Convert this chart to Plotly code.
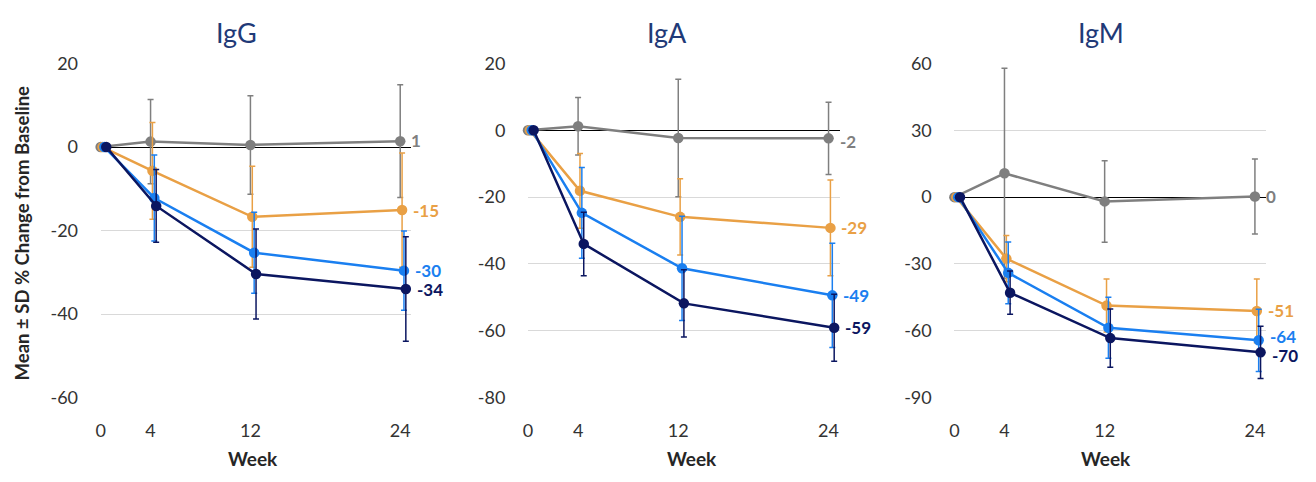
import plotly.graph_objects as go

weeks = [0, 4, 12, 24]
panels = ["IgG", "IgA", "IgM"]
series_names = ["Placebo", "Dose A", "Dose B", "Dose C"]
colors = ["#7F7F7F", "#E9A045", "#1A7FF0", "#0B1660"]
x_offsets = [0.0, 0.15, 0.3, 0.45]

# Mean % change from baseline per panel, per series
igg_mean = [
    [0, 1.3, 0.5, 1.4],
    [0, -5.7, -16.7, -15.1],
    [0, -12.2, -25.3, -29.6],
    [0, -14.1, -30.4, -34.0],
]
igg_sd = [
    [0, 10.1, 11.8, 13.5],
    [0, 11.6, 12.1, 13.7],
    [0, 10.3, 9.7, 9.5],
    [0, 8.7, 10.8, 12.5],
]
iga_mean = [
    [0, 1.2, -2.3, -2.4],
    [0, -18.1, -25.9, -29.2],
    [0, -24.7, -41.3, -49.4],
    [0, -34.0, -51.8, -59.1],
]
iga_sd = [
    [0, 8.6, 17.6, 10.8],
    [0, 11.2, 11.4, 14.3],
    [0, 13.6, 15.6, 15.6],
    [0, 9.5, 10.1, 10.0],
]
igm_mean = [
    [0, 10.7, -1.9, 0.3],
    [0, -27.6, -48.7, -51.1],
    [0, -34.0, -58.7, -64.3],
    [0, -42.9, -63.3, -69.7],
]
igm_sd = [
    [0, 47.2, 18.3, 16.8],
    [0, 10.4, 11.9, 14.3],
    [0, 13.9, 13.7, 14.0],
    [0, 9.7, 13.1, 11.7],
]
y_ranges = [[-60, 20], [-80, 20], [-90, 60]]
y_tickvals = [[-60, -40, -20, 0, 20], [-80, -60, -40, -20, 0, 20], [-90, -60, -30, 0, 30, 60]]
y_ticktext = [["-60", "-40", "-20", "0", "20"], ["-80", "-60", "-40", "-20", "0", "20"],
              ["-90", "-60", "-30", "0", "30", "60"]]
x_tickvals = [0, 4, 12, 24]
x_ticktext = ["0", "4", "12", "24"]

means = [igg_mean, iga_mean, igm_mean]
sds = [igg_sd, iga_sd, igm_sd]

W, H = 1316, 482
x_domains_px = [(96, 408), (525, 838), (953, 1266)]
y_domain_px = (54, 404)
title_x_px = [232, 665, 1100]
week_x_px = [249, 690, 1105]
# small vertical nudges (px) for end labels, per panel/series
label_yshift = [[1, 0, 0, 0], [-3, 0, 0, 0], [0, 0, 4, -3]]

FONT = "Lato, Open Sans, sans-serif"

fig = go.Figure()
layout = dict(
    width=W, height=H,
    margin=dict(l=0, r=0, t=0, b=0),
    plot_bgcolor="white", paper_bgcolor="white",
    showlegend=False,
    font=dict(family=FONT, size=15, color="#404040"),
)

annotations = []
for p in range(3):
    xa = "x" if p == 0 else f"x{p+1}"
    ya = "y" if p == 0 else f"y{p+1}"
    for s in range(4):
        m = means[p][s]
        sd = sds[p][s]
        xs = [w + x_offsets[s] for w in weeks]
        fig.add_trace(go.Scatter(
            x=xs, y=m, mode="lines+markers",
            name=series_names[s],
            line=dict(color=colors[s], width=2.5),
            marker=dict(color=colors[s], size=10.5),
            error_y=dict(type="data", array=sd, visible=True,
                         color=colors[s], thickness=1.5, width=3),
            cliponaxis=False,
            xaxis=xa, yaxis=ya,
        ))
        annotations.append(dict(
            text=f"<b>{round(m[-1]):d}</b>", x=xs[-1], y=m[-1],
            xref=xa, yref=ya, xanchor="left", yanchor="middle",
            xshift=9, yshift=label_yshift[p][s], showarrow=False,
            font=dict(size=17, color=colors[s], family=FONT),
        ))
    x0, x1 = x_domains_px[p]
    layout["xaxis" if p == 0 else f"xaxis{p+1}"] = dict(
        domain=[x0 / W, x1 / W], range=[0, 24.9],
        tickvals=x_tickvals, ticktext=x_ticktext,
        showgrid=False, zeroline=False,
        showline=False, ticks="outside", ticklen=17,
        tickcolor="rgba(0,0,0,0)", anchor=ya,
        tickfont=dict(size=18, color="#333333"),
    )
    layout["yaxis" if p == 0 else f"yaxis{p+1}"] = dict(
        domain=[1 - y_domain_px[1] / H, 1 - y_domain_px[0] / H],
        range=y_ranges[p], tickvals=y_tickvals[p], ticktext=y_ticktext[p],
        showgrid=True, gridcolor="#D9D9D9", gridwidth=1,
        zeroline=True, zerolinecolor="#000000", zerolinewidth=1,
        showline=False, ticks="outside", ticklen=18,
        tickcolor="rgba(0,0,0,0)", anchor=xa,
        tickfont=dict(size=18, color="#333333"),
    )
    annotations.append(dict(
        text=panels[p], x=title_x_px[p] / W, y=1 - 22 / H,
        xref="paper", yref="paper", yanchor="middle", xanchor="center",
        showarrow=False, font=dict(size=27, color="#1F3A78", family=FONT),
    ))
    annotations.append(dict(
        text="<b>Week</b>", x=week_x_px[p] / W, y=1 - 468 / H,
        xref="paper", yref="paper", yanchor="middle", xanchor="center",
        showarrow=False, font=dict(size=19, color="#262626", family=FONT),
    ))

annotations.append(dict(
    text="<b>Mean ± SD % Change from Baseline</b>", x=18 / W, y=1 - 231 / H,
    xref="paper", yref="paper", yanchor="middle", xanchor="center",
    textangle=-90, showarrow=False,
    font=dict(size=18.5, color="#262626", family=FONT),
))
layout["annotations"] = annotations
fig.update_layout(**layout)
fig.write_html("out.html",
               config={"displayModeBar": False},
               post_script="document.body.style.margin='0px';document.body.style.padding='0px';")
